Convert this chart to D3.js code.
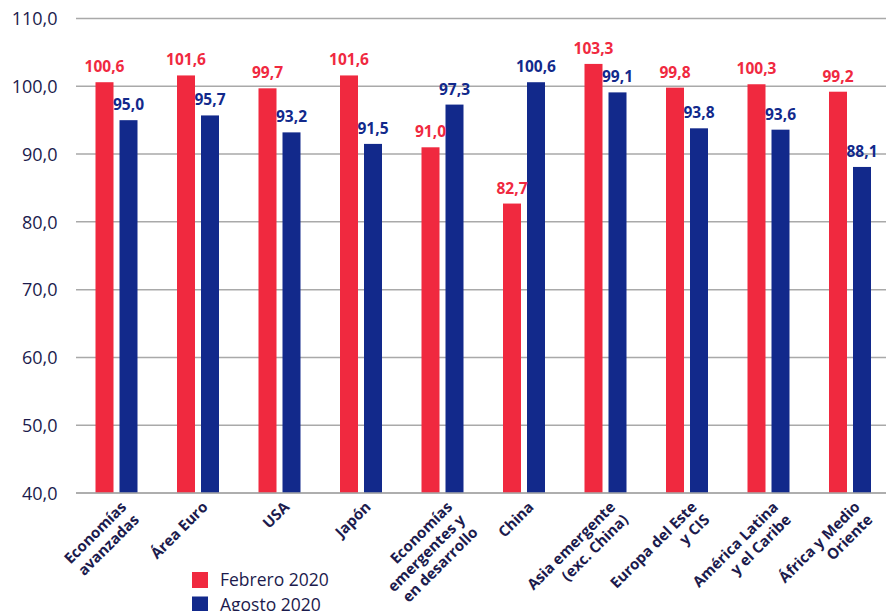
<!DOCTYPE html>
<html>
<head>
<meta charset="utf-8">
<script src="https://cdn.jsdelivr.net/npm/d3@7"></script>
<style>
  html, body { margin: 0; padding: 0; background: #fff; }
  svg { display: block; font-family: "Open Sans", sans-serif; }
</style>
</head>
<body>
<svg id="chart" width="886" height="611"></svg>
<script>
const categories = [
  "Economías\navanzadas",
  "Área Euro",
  "USA",
  "Japón",
  "Economías\nemergentes y\nen desarrollo",
  "China",
  "Asia emergente\n(exc. China)",
  "Europa del Este\ny CIS",
  "América Latina\ny el Caribe",
  "África y Medio\nOriente"
];
const seriesNames = ["Febrero 2020", "Agosto 2020"];
const febrero = [100.6, 101.6, 99.7, 101.6, 91.0, 82.7, 103.3, 99.8, 100.3, 99.2];
const agosto  = [95.0, 95.7, 93.2, 91.5, 97.3, 100.6, 99.1, 93.8, 93.6, 88.1];
const yTicks = [40, 50, 60, 70, 80, 90, 100, 110];

const colors = ["#f0293f", "#12298b"];
const textColor = "#1c1b4d";
const fmt = v => d3.format(".1f")(v).replace(".", ",");

const svg = d3.select("#chart");
const plotLeft = 76, plotRight = 891, plotTop = 18.5, plotBottom = 493;

const x = d3.scaleBand().domain(categories).range([plotLeft, plotRight]).paddingInner(0).paddingOuter(0);
const x1 = d3.scaleBand().domain(seriesNames).range([19.5, 61.5]).paddingInner(0.25).paddingOuter(0);
const y = d3.scaleLinear().domain([40, 110]).range([plotBottom, plotTop]);

// grid lines
svg.append("g").selectAll("line").data(yTicks).join("line")
  .attr("x1", plotLeft).attr("x2", 886)
  .attr("y1", d => y(d)).attr("y2", d => y(d))
  .attr("stroke", "#a9a9a9").attr("stroke-width", 1.5);

// y axis labels
const yAxis = d3.axisLeft(y).tickValues(yTicks).tickFormat(fmt).tickSize(0).tickPadding(0);
const gy = svg.append("g").attr("transform", `translate(57.5,0)`).call(yAxis);
gy.select(".domain").remove();
gy.selectAll("text")
  .attr("fill", textColor)
  .style("font-size", "18px")
  .style("font-family", "'Open Sans', sans-serif")
  .attr("dy", "0.35em");

// bars
const data = categories.map((c, i) => ({ cat: c, vals: [
  { s: seriesNames[0], v: febrero[i], c: colors[0] },
  { s: seriesNames[1], v: agosto[i], c: colors[1] }
]}));

const groups = svg.append("g").selectAll("g").data(data).join("g")
  .attr("transform", d => `translate(${x(d.cat)},0)`);

groups.selectAll("rect").data(d => d.vals).join("rect")
  .attr("x", d => x1(d.s))
  .attr("width", x1.bandwidth())
  .attr("y", d => y(d.v))
  .attr("height", d => y(40) - y(d.v))
  .attr("fill", d => d.c);

groups.selectAll("text.val").data(d => d.vals).join("text")
  .attr("class", "val")
  .attr("x", d => x1(d.s) + x1.bandwidth() / 2)
  .attr("y", d => y(d.v) - 10)
  .attr("text-anchor", "middle")
  .attr("fill", d => d.c)
  .style("font-size", "15.5px")
  .style("font-weight", "bold")
  .text(d => fmt(d.v));

// baseline axis
svg.append("line")
  .attr("x1", plotLeft).attr("x2", 886)
  .attr("y1", y(40)).attr("y2", y(40))
  .attr("stroke", "#a9a9a9").attr("stroke-width", 1.5);

// category labels
const labels = svg.append("g").selectAll("text").data(categories).join("text")
  .attr("transform", d => `translate(${x(d) + x.bandwidth() / 2 + 10.5},508) rotate(-45)`)
  .attr("text-anchor", "end")
  .attr("fill", textColor)
  .style("font-size", "15px")
  .style("font-weight", "bold");
labels.each(function(d) {
  const t = d3.select(this);
  d.split("\n").forEach((line, i) => {
    t.append("tspan").attr("x", 0).attr("dy", i === 0 ? "0em" : "1.2em").text(line);
  });
});

// legend
const legend = svg.append("g").attr("transform", "translate(192,572)");
seriesNames.forEach((s, i) => {
  const g = legend.append("g").attr("transform", `translate(0,${i * 24.5})`);
  g.append("rect").attr("width", 16).attr("height", 16).attr("fill", colors[i]);
  g.append("text").attr("x", 28).attr("y", 8).attr("dy", "0.36em")
    .attr("fill", textColor).style("font-size", "17.5px").text(s);
});
</script>
</body>
</html>
